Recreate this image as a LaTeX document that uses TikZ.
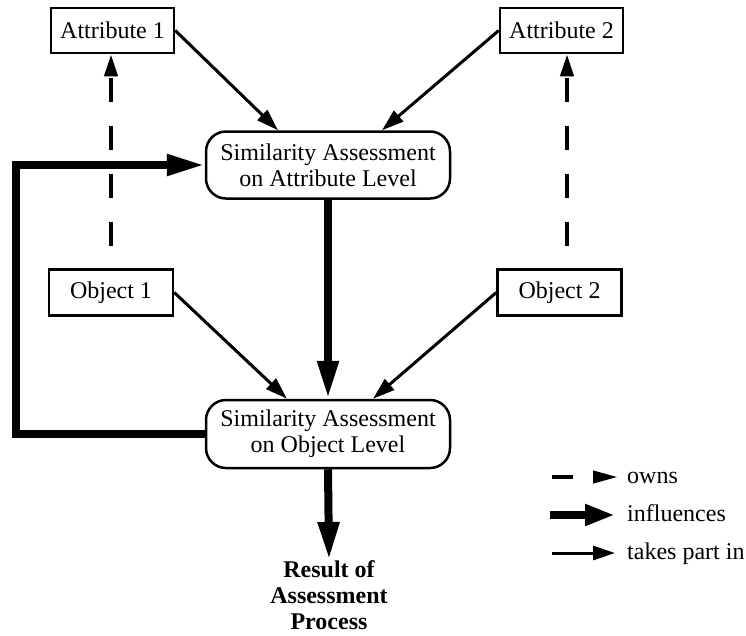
\documentclass[tikz,border=0pt]{standalone}
\usepackage{fontspec}
\setmainfont{Liberation Serif}
\usetikzlibrary{arrows.meta}
\begin{document}
\begin{tikzpicture}[x=1pt,y=-1pt,
  every node/.style={font=\fontsize{24}{26}\selectfont},
  plainbox/.style={draw,line width=2.5pt,minimum width=123pt,minimum height=45pt,inner sep=0pt},
  assessbox/.style={draw,line width=2.5pt,rounded corners=20pt,minimum width=244pt,
    minimum height=67pt,align=center,inner sep=0pt},
  partarrow/.style={line width=3pt,-{Triangle[length=22pt,width=14pt]}},
  ownarrow/.style={line width=4pt,dash pattern=on 24pt off 24pt,-{Triangle[length=22pt,width=13pt]}},
  inflarrow/.style={line width=8pt,-{Triangle[length=38pt,width=20pt]}},
  legendtext/.style={anchor=base west,inner sep=0pt},
]
\useasboundingbox (0,0) rectangle (746,635);

% entities
\node[plainbox] (a1) at (112.5,30.5) {Attribute 1};
\node[plainbox] (a2) at (561.5,30.5) {Attribute 2};
\node[plainbox,minimum width=124pt,minimum height=46pt] (o1) at (111,292.5) {Object 1};
\node[plainbox,minimum width=124pt,minimum height=46pt] (o2) at (559.5,292.5) {Object 2};

% assessment steps
\node[assessbox] (sa) at (328,165) {Similarity Assessment\\on Attribute Level};
\node[assessbox,minimum height=68pt] (so) at (328,434) {Similarity Assessment\\on Object Level};

% result
\node[anchor=north,inner sep=0pt,align=center,font=\fontsize{24}{26}\selectfont\bfseries]
  (res) at (329,560) {Result of\\Assessment\\Process};

% ownership (dashed)
\coordinate (own1) at (111,246);
\coordinate (own2) at (567,246);
\draw[ownarrow] (own1) -- (own1 |- a1.south);
\draw[ownarrow] (own2) -- (own2 |- a2.south);

% taking part
\draw[partarrow] (a1.east) -- ([xshift=-50pt]sa.north);
\draw[partarrow] (a2.west) -- ([xshift=54pt]sa.north);
\draw[partarrow] (o1.east) -- ([xshift=-41pt]so.north);
\draw[partarrow] (o2.west) -- ([xshift=45pt]so.north);

% influences
\draw[inflarrow] (sa.south) -- (so.north);
\draw[inflarrow] (so.west) -- ++(-189,0) |- (sa.west);
\draw[inflarrow] (so.south) -- (res.north);

% legend
\node[legendtext] (lown) at (627,483) {owns};
\node[legendtext] (linf) at (627,521) {influences};
\node[legendtext] (lpart) at (627,559) {takes part in};
\coordinate (kown) at (552,477);
\coordinate (kinf) at (550,515);
\coordinate (kpart) at (552,553);
\draw[line width=4pt,dash pattern=on 21pt off 30pt,-{Triangle[length=25pt,width=12pt]}]
  (kown) -- ([xshift=-9pt]kown -| lown.west);
\draw[line width=8pt,-{Triangle[length=30pt,width=20pt]}]
  (kinf) -- ([xshift=-12pt]kinf -| linf.west);
\draw[partarrow] (kpart) -- ([xshift=-12pt]kpart -| lpart.west);
\end{tikzpicture}
\end{document}
